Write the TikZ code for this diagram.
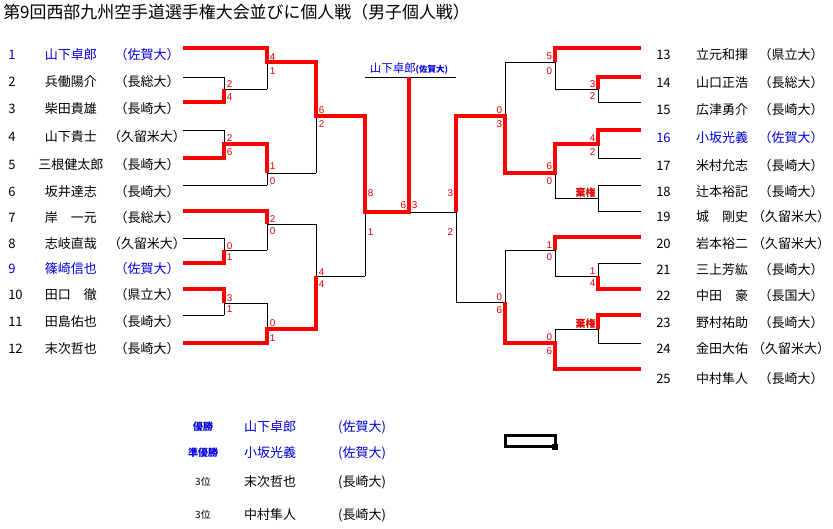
\documentclass[tikz,border=0pt]{standalone}
\usepackage{fontspec}
\setmainfont{Noto Sans CJK JP}
\newfontfamily\scfamily{Liberation Sans}
\definecolor{wred}{RGB}{255,0,0}
\definecolor{sred}{RGB}{225,0,0}
\definecolor{wblue}{RGB}{0,0,225}
\newcommand\rowfont{\fontsize{9.75}{11}\selectfont}
\newcommand\scorefont{\scfamily\fontsize{7.4}{8}\selectfont}
\begin{document}
\begin{tikzpicture}[x=0.75pt,y=-0.75pt,
  bk/.style={line width=0.75pt,black},
  rd/.style={line width=3pt,wred,line join=miter},
  num/.style={anchor=west,inner sep=0pt,font=\rowfont},
  nm/.style={inner sep=0pt,font=\rowfont},
  scl/.style={anchor=west,inner sep=0pt,font=\scorefont,text=sred},
  scr/.style={anchor=east,inner sep=0pt,font=\scorefont,text=sred},
  kiken/.style={anchor=east,inner sep=0pt,font=\fontsize{7.5}{8}\selectfont\bfseries,text=sred},
  res/.style={inner sep=0pt,font=\fontsize{7.5}{8}\selectfont\bfseries},
  win/.style={text=wblue}]
\useasboundingbox (0,0) rectangle (833,529);

% title
\node[anchor=west,inner sep=0pt,font=\fontsize{12.7}{14}\selectfont] (title) at (3,12) {第9回西部九州空手道選手権大会並びに個人戦（男子個人戦）};

% ---------- left entries ----------
\foreach \n/\name/\uni/\y/\c in {
  1/山下卓郎/（佐賀大）/55/wblue,
  2/兵働陽介/（長総大）/82/black,
  3/柴田貴雄/（長崎大）/109/black,
  4/山下貴士/（久留米大）/137/black,
  5/三根健太郎/（長崎大）/165/black,
  6/坂井達志/（長崎大）/192/black,
  7/岸　一元/（長総大）/218/black,
  8/志岐直哉/（久留米大）/244/black,
  9/篠崎信也/（佐賀大）/269/wblue,
  10/田口　徹/（県立大）/295/black,
  11/田島佑也/（長崎大）/322/black,
  12/末次哲也/（長崎大）/349/black}{
  \node[num,text=\c] (ln\n) at (8,\y) {\n};
  \node[nm,text=\c] (lname\n) at (71,\y) {\name};
  \node[nm,text=\c] (luni\n) at (147,\y) {\uni};
}

% ---------- right entries ----------
\foreach \n/\name/\uni/\y/\c in {
  13/立元和揮/（県立大）/55/black,
  14/山口正浩/（長総大）/83/black,
  15/広津勇介/（長崎大）/110/black,
  16/小坂光義/（佐賀大）/138/wblue,
  17/米村允志/（長崎大）/166/black,
  18/辻本裕記/（長崎大）/192/black,
  19/城　剛史/（久留米大）/217/black,
  20/岩本裕二/（久留米大）/244/black,
  21/三上芳紘/（長崎大）/270/black,
  22/中田　豪/（長国大）/296/black,
  23/野村祐助/（長崎大）/323/black,
  24/金田大佑/（久留米大）/349/black,
  25/中村隼人/（長崎大）/379/black}{
  \node[num,text=\c] (rn\n) at (656,\y) {\n};
  \node[nm,text=\c] (rname\n) at (722,\y) {\name};
  \node[nm,text=\c] (runi\n) at (791,\y) {\uni};
}

% ---------- black bracket (left) ----------
\foreach \y in {48,185,211,343} \draw[bk] (183,\y) -- (267,\y);
\foreach \y in {77,102,130,158,238,263,289,315} \draw[bk] (183,\y) -- (224,\y);
\foreach \a/\b/\m in {77/102/89,130/158/144,238/263/250,289/315/303}
  \draw[bk] (224,\a) -- (224,\b) (224,\m) -- (267,\m);
\foreach \a/\b/\m in {48/89/62,144/185/173,211/250/224,303/343/329}
  \draw[bk] (267,\a) -- (267,\b) (267,\m) -- (316,\m);
\foreach \a/\b/\m in {62/173/116,224/329/276}
  \draw[bk] (316,\a) -- (316,\b) (316,\m) -- (365,\m);
\draw[bk] (365,116) -- (365,276) (365,212) -- (456,212);
\draw[bk] (409,77) -- (409,212);
\draw[bk] (365,77) -- (456,77);

% ---------- black bracket (right) ----------
\draw[bk] (456,116) -- (456,302) (456,116) -- (505,116) (456,302) -- (505,302);
\foreach \a/\b/\m in {62/173/116,250/343/302}
  \draw[bk] (505,\a) -- (505,\b);
\foreach \y in {62,173,250,343} \draw[bk] (505,\y) -- (555,\y);
\foreach \a/\b in {48/89,144/198,237/276,329/369} \draw[bk] (555,\a) -- (555,\b);
\foreach \y in {89,144,198,276,329} \draw[bk] (555,\y) -- (598,\y);
\foreach \y in {48,237,369} \draw[bk] (555,\y) -- (641,\y);
\foreach \a/\b in {77/102,130/158,185/211,263/289,315/343} \draw[bk] (598,\a) -- (598,\b);
\foreach \y in {77,102,130,158,185,211,263,289,315,343} \draw[bk] (598,\y) -- (641,\y);

% ---------- red winner paths ----------
\draw[rd] (183,48) -- (267,48) -- (267,62) -- (316,62) -- (316,116) -- (365,116) -- (365,212) -- (409,212) -- (409,77);
\draw[rd] (183,102) -- (224,102) -- (224,89);
\draw[rd] (183,158) -- (224,158) -- (224,144) -- (267,144) -- (267,173);
\draw[rd] (183,211) -- (267,211) -- (267,224);
\draw[rd] (183,263) -- (224,263) -- (224,250);
\draw[rd] (183,289) -- (224,289) -- (224,303);
\draw[rd] (183,343) -- (267,343) -- (267,329) -- (316,329) -- (316,276);
\draw[rd] (641,130) -- (598,130) -- (598,144) -- (555,144) -- (555,173) -- (505,173) -- (505,116) -- (456,116) -- (456,212);
\draw[rd] (641,48) -- (555,48) -- (555,62);
\draw[rd] (641,77) -- (598,77) -- (598,89);
\draw[rd] (641,237) -- (555,237) -- (555,250);
\draw[rd] (641,289) -- (598,289) -- (598,276);
\draw[rd] (641,315) -- (598,315) -- (598,329);
\draw[rd] (641,369) -- (555,369) -- (555,343) -- (505,343) -- (505,302);

% ---------- scores (left) ----------
\foreach \x/\y/\s [count=\i] in {
  224/84/2,224/97/4,267/57/4,267/71/1,224/138/2,224/152/6,267/166/1,267/181/0,
  316/110/6,316/124/2,267/219/2,267/231/0,224/246/0,224/257/1,224/298/3,224/309/1,
  267/323/0,267/338/1,316/272/4,316/284/4,365/193/8,365/232/1,409/205/3}
  \node[scl] (sl\i) at (\x+2.5,\y) {\s};
% ---------- scores (right) ----------
\foreach \x/\y/\s [count=\i] in {
  409/205/6,456/193/3,456/232/2,505/110/0,505/124/3,555/56/5,555/71/0,598/84/3,598/96/2,
  555/166/6,555/181/0,598/138/4,598/152/2,505/297/0,505/310/6,555/245/1,555/257/0,
  598/271/1,598/283/4,555/337/0,555/351/6}
  \node[scr] (sr\i) at (\x-2.5,\y) {\s};
\node[kiken] (k1) at (596,193) {棄権};
\node[kiken] (k2) at (596,324) {棄権};

% champion label
\node[inner sep=0pt,text=wblue] (champ) at (409,69)
  {{\fontsize{8.6}{9}\selectfont 山下卓郎}{\fontsize{6.4}{7}\selectfont\bfseries (佐賀大)}};

% ---------- results ----------
\node[res,text=wblue] (r1l) at (203,427) {優勝};
\node[nm,text=wblue] (r1n) at (270,427) {山下卓郎};
\node[nm,text=wblue] (r1u) at (362,427) {(佐賀大)};
\node[res,text=wblue] (r2l) at (203,453) {準優勝};
\node[nm,text=wblue] (r2n) at (270,453) {小坂光義};
\node[nm,text=wblue] (r2u) at (362,453) {(佐賀大)};
\node[res,font=\fontsize{7.5}{8}\selectfont] (r3l) at (203,482) {3位};
\node[nm] (r3n) at (270,482) {末次哲也};
\node[nm] (r3u) at (362,482) {(長崎大)};
\node[res,font=\fontsize{7.5}{8}\selectfont] (r4l) at (203,515) {3位};
\node[nm] (r4n) at (270,515) {中村隼人};
\node[nm] (r4u) at (362,515) {(長崎大)};

% small box
\draw[line width=2.4pt] (505.5,435.5) rectangle (555.5,446.5);
\fill (552,444) rectangle (558,450);
\end{tikzpicture}
\end{document}
